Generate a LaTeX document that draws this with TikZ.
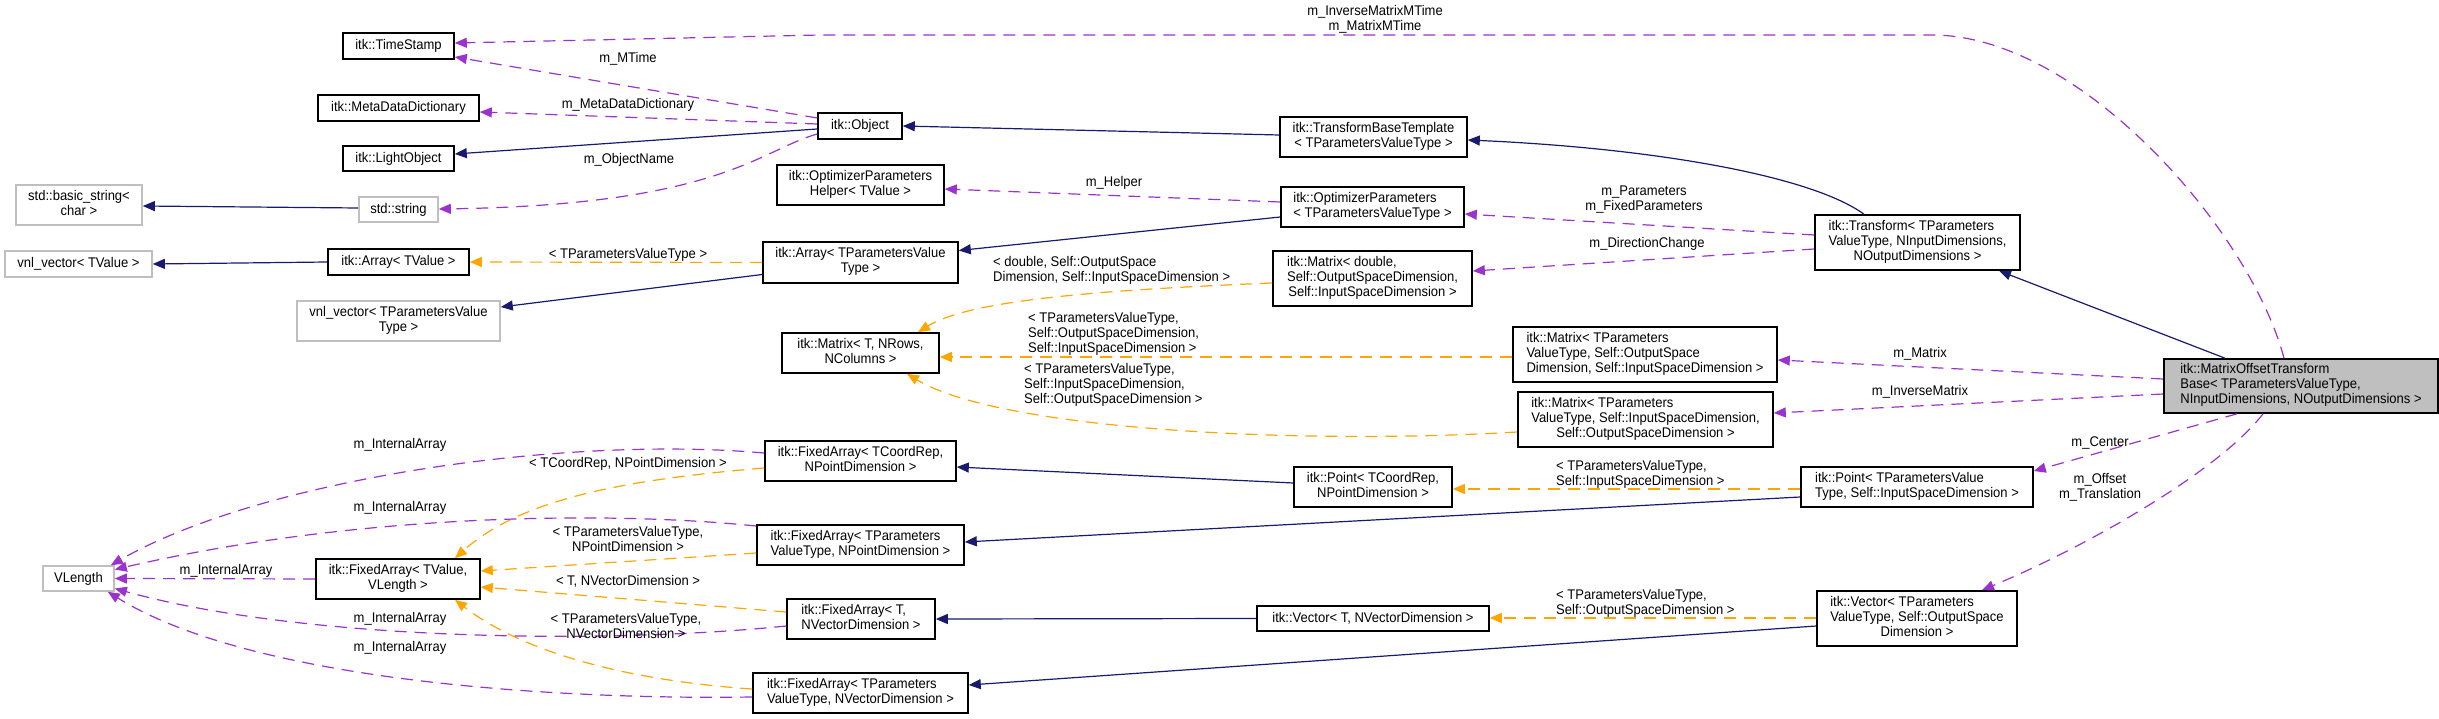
\documentclass[tikz,border=0pt]{standalone}
\usepackage{fontspec}
\setmainfont{Liberation Sans}[FakeStretch=0.93]
\usetikzlibrary{arrows.meta,calc}
\definecolor{inhc}{HTML}{191970}
\definecolor{usec}{HTML}{9A32CD}
\definecolor{tmpc}{HTML}{FFA500}
\definecolor{grayc}{HTML}{BFBFBF}
\newcommand{\dtext}[1]{\begin{tabular}{@{}l@{}}#1\end{tabular}}
\newcommand{\lastln}[1]{\multicolumn{1}{@{}c@{}}{#1}}
\tikzset{
  cls/.style={draw=black, line width=1.6pt, fill=white, inner sep=0pt, font=\fontsize{14}{15}\selectfont},
  extcls/.style={cls, draw=grayc},
  curcls/.style={cls, fill=grayc},
  tip/.style={-{Triangle[length=12pt,width=10pt]}},
  inh/.style={draw=inhc, line width=1.2pt, tip},
  usage/.style={draw=usec, line width=1.2pt, dash pattern=on 12pt off 8pt, tip},
  tmpl/.style={draw=tmpc, line width=1.2pt, dash pattern=on 12pt off 8pt, tip},
  lbl/.style={inner sep=0pt, font=\fontsize{14}{15}\selectfont, align=center},
  lbll/.style={inner sep=0pt, font=\fontsize{14}{15}\selectfont, align=left, anchor=west},
}
\begin{document}
\begin{tikzpicture}[x=1pt,y=-1pt]
\useasboundingbox (0,0) rectangle (2439,719);
% column 1
\node[cls, minimum width=111pt, minimum height=26pt] (ts) at (398.5,46) {itk::TimeStamp};
\node[cls, minimum width=161pt, minimum height=26pt] (mdd) at (398.5,108) {itk::MetaDataDictionary};
\node[cls, minimum width=111pt, minimum height=25pt] (lo) at (398.5,158.5) {itk::LightObject};
\node[extcls, minimum width=126pt, minimum height=40pt] (bs) at (79,205) {\dtext{std::basic\_string<\\\lastln{char >}}};
\node[extcls, minimum width=79pt, minimum height=25pt] (ss) at (398.5,209.5) {std::string};
\node[extcls, minimum width=147pt, minimum height=26pt] (vv) at (78.5,264) {vnl\_vector< TValue >};
\node[cls, minimum width=141pt, minimum height=26pt] (at) at (398.5,262) {itk::Array< TValue >};
\node[extcls, minimum width=203pt, minimum height=40pt] (vp) at (398.5,321) {\dtext{vnl\_vector< TParametersValue\\\lastln{Type >}}};
\node[extcls, minimum width=71pt, minimum height=25pt] (vl) at (78.5,578.5) {VLength};
\node[cls, minimum width=164pt, minimum height=40pt] (fv) at (398,579) {\dtext{itk::FixedArray< TValue,\\\lastln{VLength >}}};
% column 2
\node[cls, minimum width=84pt, minimum height=26pt] (obj) at (860,126) {itk::Object};
\node[cls, minimum width=167pt, minimum height=40pt] (oph) at (860.5,185) {\dtext{itk::OptimizerParameters\\\lastln{Helper< TValue >}}};
\node[cls, minimum width=195pt, minimum height=41pt] (ap) at (860.5,262.5) {\dtext{itk::Array< TParametersValue\\\lastln{Type >}}};
\node[cls, minimum width=157pt, minimum height=40pt] (mt) at (860.5,353) {\dtext{itk::Matrix< T, NRows,\\\lastln{NColumns >}}};
\node[cls, minimum width=191pt, minimum height=40pt] (fac) at (860.5,461) {\dtext{itk::FixedArray< TCoordRep,\\\lastln{NPointDimension >}}};
\node[cls, minimum width=207pt, minimum height=40pt] (fap) at (860.5,545) {\dtext{itk::FixedArray< TParameters\\\lastln{ValueType, NPointDimension >}}};
\node[cls, minimum width=148pt, minimum height=40pt] (fat) at (861,619) {\dtext{itk::FixedArray< T,\\\lastln{NVectorDimension >}}};
\node[cls, minimum width=215pt, minimum height=40pt] (fav) at (860.5,693) {\dtext{itk::FixedArray< TParameters\\\lastln{ValueType, NVectorDimension >}}};
% column 3
\node[cls, minimum width=187pt, minimum height=40pt] (tbt) at (1373.5,137) {\dtext{itk::TransformBaseTemplate\\\lastln{< TParametersValueType >}}};
\node[cls, minimum width=183pt, minimum height=40pt] (op) at (1372.5,207) {\dtext{itk::OptimizerParameters\\\lastln{< TParametersValueType >}}};
\node[cls, minimum width=199pt, minimum height=55pt] (md) at (1372.5,278.5) {\dtext{itk::Matrix< double,\\Self::OutputSpaceDimension,\\\lastln{Self::InputSpaceDimension >}}};
\node[cls, minimum width=158pt, minimum height=40pt] (pc) at (1373,487) {\dtext{itk::Point< TCoordRep,\\\lastln{NPointDimension >}}};
\node[cls, minimum width=232pt, minimum height=25pt] (vt) at (1373,618.5) {itk::Vector< T, NVectorDimension >};
% column 4
\node[cls, minimum width=264pt, minimum height=55pt] (mm) at (1645,354.5) {\dtext{itk::Matrix< TParameters\\ValueType, Self::OutputSpace\\\lastln{Dimension, Self::InputSpaceDimension >}}};
\node[cls, minimum width=255pt, minimum height=55pt] (mi) at (1645.5,419.5) {\dtext{itk::Matrix< TParameters\\ValueType, Self::InputSpaceDimension,\\\lastln{Self::OutputSpaceDimension >}}};
% column 5
\node[cls, minimum width=205pt, minimum height=55pt] (tr) at (1917.5,242.5) {\dtext{itk::Transform< TParameters\\ValueType, NInputDimensions,\\\lastln{NOutputDimensions >}}};
\node[cls, minimum width=232pt, minimum height=40pt] (pp) at (1917,487) {\dtext{itk::Point< TParametersValue\\\lastln{Type, Self::InputSpaceDimension >}}};
\node[cls, minimum width=200pt, minimum height=55pt] (vp2) at (1917,618.5) {\dtext{itk::Vector< TParameters\\ValueType, Self::OutputSpace\\\lastln{Dimension >}}};
% main
\node[curcls, minimum width=274pt, minimum height=54pt] (motb) at (2301,386) {\dtext{itk::MatrixOffsetTransform\\Base< TParametersValueType,\\\lastln{NInputDimensions, NOutputDimensions >}}};

% edges
\draw[usage] ($(motb.north)+(-17,0)$) .. controls (2250,230) and (2080,35) .. (1932,35) -- (820,35) -- ($(ts.east)+(0,-3)$);
\draw[usage] ($(obj.west)+(0,-8)$) -- ($(ts.east)+(0,11)$);
\draw[usage] ($(obj.west)+(0,-2)$) -- ($(mdd.east)+(0,4)$);
\draw[inh] ($(obj.west)+(0,3)$) -- ($(lo.east)+(0,-4.5)$);
\draw[usage] ($(obj.west)+(0,8)$) .. controls (760,150) and (720,205) .. ($(ss.east)+(0,-0.5)$);
\draw[inh] ($(ss.west)+(0,-1.5)$) -- ($(bs.east)+(0,1)$);
\draw[inh] (at.west) -- (vv.east);
\draw[tmpl] (ap.west) -- (at.east);
\draw[inh] ($(ap.west)+(0,12)$) -- ($(vp.east)+(0,-14)$);
\draw[inh] ($(op.west)+(0,10)$) -- ($(ap.east)+(0,-12)$);
\draw[usage] ($(op.west)+(0,-5)$) -- ($(oph.east)+(0,4)$);
\draw[inh] ($(tbt.west)+(0,-2)$) -- (obj.east);
\draw[inh] ($(tr.north)+(-53.5,0)$) .. controls (1810,175) and (1650,148) .. ($(tbt.east)+(0,3)$);
\draw[usage] ($(tr.west)+(0,-7.5)$) -- ($(op.east)+(0,7)$);
\draw[usage] ($(tr.west)+(0,6.5)$) -- ($(md.east)+(0,-7.5)$);
\draw[tmpl] ($(md.west)+(0,4.5)$) .. controls (1100,290) and (970,300) .. ($(mt.north)+(57.5,0)$);
\draw[tmpl] ($(mm.west)+(0,2.5)$) -- ($(mt.east)+(0,4)$);
\draw[tmpl] ($(mi.west)+(0,12.5)$) .. controls (1300,445) and (1000,430) .. ($(mt.south)+(46.5,0)$);
\draw[inh] ($(motb.north)+(-76,0)$) -- ($(tr.south)+(81.5,0)$);
\draw[usage] ($(motb.west)+(0,-7)$) -- ($(mm.east)+(0,5.5)$);
\draw[usage] ($(motb.west)+(0,8)$) -- ($(mi.east)+(0,-6.5)$);
\draw[usage] ($(motb.south)+(-64,0)$) -- ($(pp.east)+(0,-16)$);
\draw[usage] ($(motb.south)+(-38,0)$) .. controls (2220,470) and (2090,545) .. ($(vp2.north)+(65,0)$);
\draw[tmpl] ($(pp.west)+(0,2)$) -- ($(pc.east)+(0,2)$);
\draw[inh] ($(pp.west)+(0,10)$) -- ($(fap.east)+(0,-3)$);
\draw[inh] ($(pc.west)+(0,-4)$) -- ($(fac.east)+(0,6)$);
\draw[tmpl] ($(vp2.west)+(0,-0.5)$) -- ($(vt.east)+(0,-0.5)$);
\draw[inh] (vt.west) -- (fat.east);
\draw[inh] ($(vp2.west)+(0,7.5)$) -- ($(fav.east)+(0,-8)$);
\draw[tmpl] ($(fac.west)+(0,7)$) .. controls (620,480) and (520,500) .. ($(fv.north)+(57,0)$);
\draw[tmpl] ($(fap.west)+(0,8)$) -- ($(fv.east)+(0,-8)$);
\draw[tmpl] ($(fat.west)+(0,-7)$) -- ($(fv.east)+(0,8)$);
\draw[tmpl] ($(fav.west)+(0,-4)$) .. controls (620,680) and (520,650) .. ($(fv.south)+(57,0)$);
\draw[usage] (fv.west) -- (vl.east);
\draw[usage] ($(fac.west)+(0,-8)$) .. controls (560,435) and (260,480) .. ($(vl.north east)+(-4,0)$);
\draw[usage] ($(fap.west)+(0,-19)$) .. controls (600,510) and (350,515) .. ($(vl.east)+(0,-9)$);
\draw[usage] ($(fat.west)+(0,7)$) .. controls (600,645) and (300,640) .. ($(vl.east)+(0,10)$);
\draw[usage] ($(fav.west)+(0,4)$) .. controls (550,700) and (250,680) .. ($(vl.south east)+(-7,0)$);

% labels
\node[lbl] (l1) at (1375,19) {m\_InverseMatrixMTime\\m\_MatrixMTime};
\node[lbl] (l2) at (628,59) {m\_MTime};
\node[lbl] (l3) at (628,105) {m\_MetaDataDictionary};
\node[lbl] (l4) at (629,160) {m\_ObjectName};
\node[lbl] (l5) at (628,255) {< TParametersValueType >};
\node[lbl] (l6) at (1114,183) {m\_Helper};
\node[lbl] (l7) at (1644,200) {m\_Parameters\\m\_FixedParameters};
\node[lbl] (l8) at (1647,244) {m\_DirectionChange};
\node[lbll] (l9) at (993,270) {< double, Self::OutputSpace\\Dimension, Self::InputSpaceDimension >};
\node[lbll] (l10) at (1028,334) {< TParametersValueType,\\Self::OutputSpaceDimension,\\Self::InputSpaceDimension >};
\node[lbll] (l11) at (1024,385) {< TParametersValueType,\\Self::InputSpaceDimension,\\Self::OutputSpaceDimension >};
\node[lbl] (l12) at (1920,354) {m\_Matrix};
\node[lbl] (l13) at (1920,392) {m\_InverseMatrix};
\node[lbl] (l14) at (2100,443) {m\_Center};
\node[lbl] (l15) at (2100,487) {m\_Offset\\m\_Translation};
\node[lbll] (l16) at (1556,474) {< TParametersValueType,\\Self::InputSpaceDimension >};
\node[lbll] (l17) at (1556,603) {< TParametersValueType,\\Self::OutputSpaceDimension >};
\node[lbl] (l18) at (400,445) {m\_InternalArray};
\node[lbl] (l19) at (628,464) {< TCoordRep, NPointDimension >};
\node[lbl] (l20) at (400,508) {m\_InternalArray};
\node[lbl] (l21) at (628,539) {< TParametersValueType,\\NPointDimension >};
\node[lbl] (l22) at (226,571) {m\_InternalArray};
\node[lbl] (l23) at (628,581) {< T, NVectorDimension >};
\node[lbl] (l24) at (400,619) {m\_InternalArray};
\node[lbl] (l25) at (626,626) {< TParametersValueType,\\NVectorDimension >};
\node[lbl] (l26) at (400,648) {m\_InternalArray};
\end{tikzpicture}
\end{document}
